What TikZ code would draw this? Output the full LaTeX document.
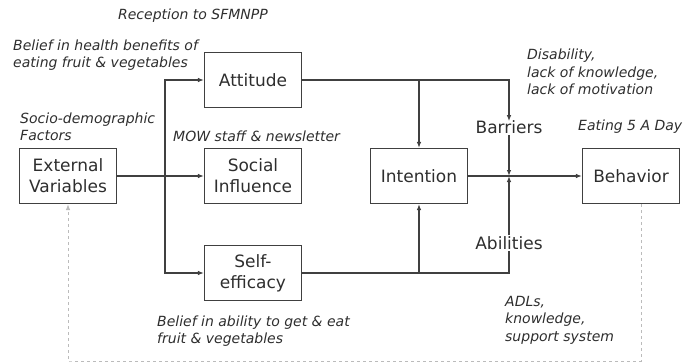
\documentclass[tikz,border=0pt]{standalone}
\usepackage{fontspec}
\setmainfont{DejaVu Sans}
\usetikzlibrary{arrows.meta}
\definecolor{linegray}{HTML}{404040}
\definecolor{textgray}{HTML}{2E2E2E}
\definecolor{dashgray}{HTML}{BBBBBB}
\tikzset{
  box/.style={draw=linegray, line width=1.1pt, minimum width=97pt, minimum height=55pt, align=center, text=textgray, font=\fontsize{17}{21}\selectfont, inner sep=2pt},
  lbl/.style={text=textgray, font=\fontsize{17}{21}\selectfont, inner sep=1pt},
  note/.style={text=textgray, font=\fontsize{14}{17.5}\selectfont\itshape, align=left, anchor=west, inner sep=0pt},
  link/.style={draw=linegray, line width=1.1pt, -{Latex[length=6pt,width=4.5pt]}},
  wire/.style={draw=linegray, line width=1.1pt}
}
\begin{document}
\begin{tikzpicture}[x=1pt,y=-1pt]
\useasboundingbox (0,0) rectangle (699,364);
% Define the boxes
\node[box] (ext) at (68,176) {External\\Variables};
\node[box] (att) at (253,80) {Attitude};
\node[box] (soc) at (253,176) {Social\\Influence};
\node[box] (self) at (253,273) {Self-\\efficacy};
\node[box] (int) at (419,176) {Intention};
\node[box] (beh) at (631,176) {Behavior};
\node[lbl] (bar) at (509,127) {Barriers};
\node[lbl] (abl) at (509,243) {Abilities};
\coordinate (split) at (165,176);
\coordinate (join) at (509,176);
% Add notes to the boxes
\node[note, anchor=center] (rec) at (193,16) {Reception to SFMNPP};
\node[note] (health) at (13,55) {Belief in health benefits of\\eating fruit \& vegetables};
\node[note] (socio) at (20,127) {Socio-demographic\\Factors};
\node[note] (mow) at (173,136) {MOW staff \& newsletter};
\node[note] (dis) at (527,72) {Disability,\\lack of knowledge,\\lack of motivation};
\node[note] (eat) at (578,127) {Eating 5 A Day};
\node[note] (abil) at (157,331) {Belief in ability to get \& eat\\fruit \& vegetables};
\node[note] (adl) at (505,320) {ADLs,\\knowledge,\\support system};
% Connect the boxes
\draw[link] (ext) -- (soc);
\draw[link] (split) |- (att);
\draw[link] (split) |- (self);
\draw[link] (att.east) -| ([yshift=-2pt]bar.north);
\draw[link] (att.east -| int.north) -- (int.north);
\draw[wire] (self) -| (abl.south);
\draw[link] (self.east -| int.south) -- (int.south);
\draw[link] (bar.south) -- (join);
\draw[link] (abl.north) -- (join);
\draw[link] (int) -- (beh);
% Feedback loop
\draw[dashgray, line width=1pt, dashed, -{Latex[length=6pt,width=4.5pt]}] ([xshift=10pt]beh.south) |- (69,361) -| (ext.south);
\end{tikzpicture}
\end{document}
